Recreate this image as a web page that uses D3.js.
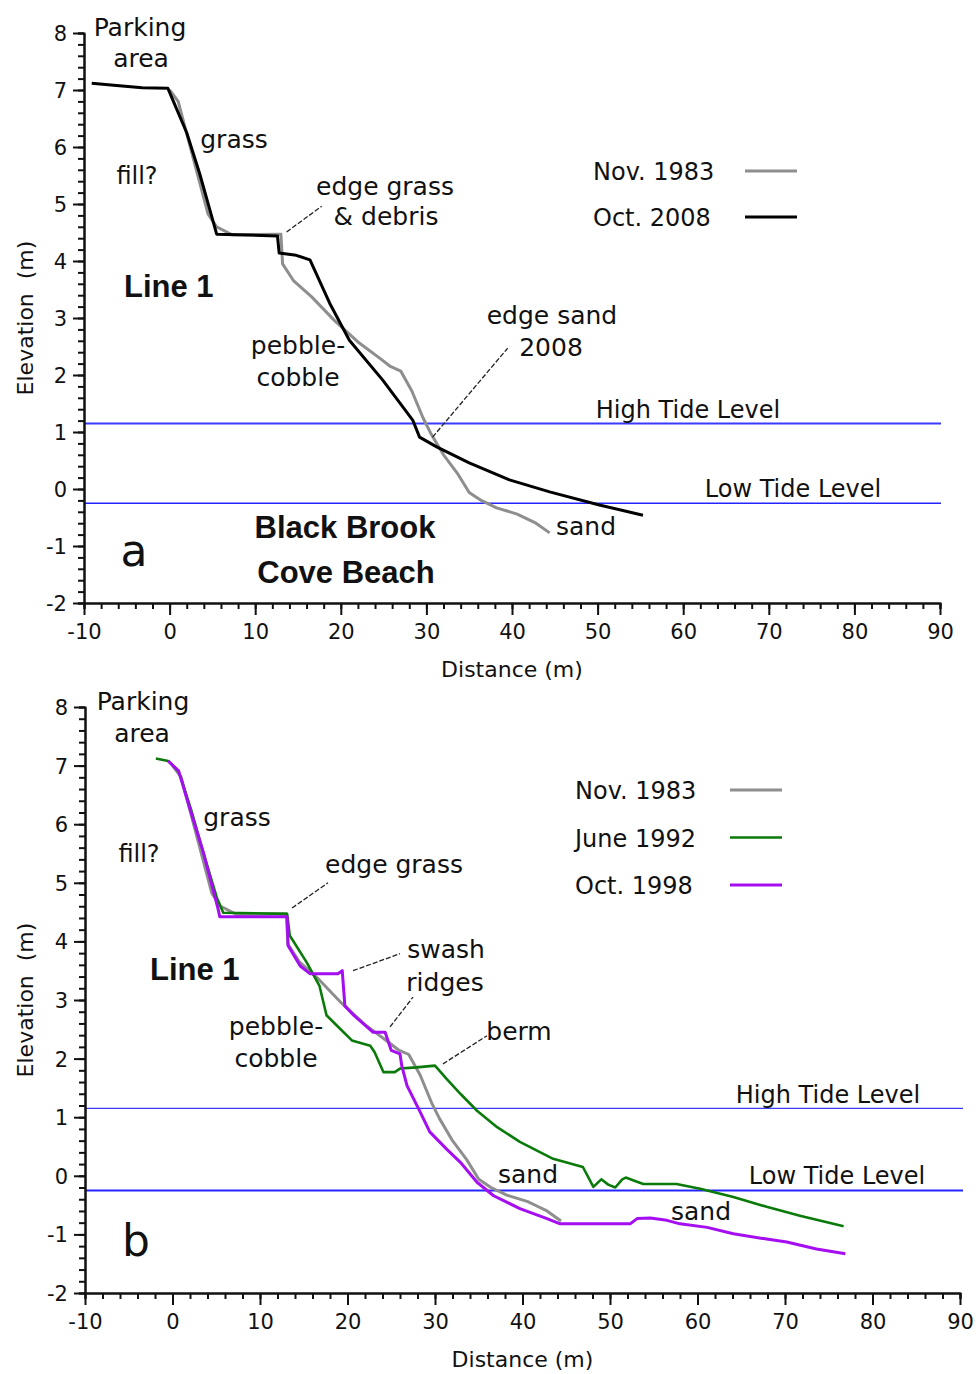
<!DOCTYPE html>
<html>
<head>
<meta charset="utf-8">
<script src="https://cdn.jsdelivr.net/npm/d3@7"></script>
<style>
  body { margin: 0; background: #fff; }
  text { font-family: "DejaVu Sans", sans-serif; fill: #111; }
  .bold { font-family: "Liberation Sans", Arial, sans-serif; font-weight: bold; }
</style>
</head>
<body>
<div id="chart"></div>
<script>
// axis ticks
var distMajor = [-10, 0, 10, 20, 30, 40, 50, 60, 70, 80, 90];
var elevMajor = [-2, -1, 0, 1, 2, 3, 4, 5, 6, 7, 8];

// tide levels (m)
var highTide = 1.15;
var lowTide = -0.25;

// profiles, [distance m, elevation m]
var nov1983 = [[0,7.0],[1.0,6.8],[4.5,4.82],[5.5,4.6],[7.3,4.46],[13.0,4.47],[13.2,3.95],[14.5,3.65],
  [16.6,3.37],[19.3,2.95],[22.0,2.58],[24.5,2.3],[25.8,2.15],[27.0,2.07],[28.3,1.72],[29.6,1.25],
  [30.5,0.98],[32.0,0.6],[33.6,0.28],[35.0,-0.06],[36.4,-0.2],[38.2,-0.33],[40.6,-0.44],[41.7,-0.52],
  [42.8,-0.6],[44.4,-0.77]];

var oct2008 = [[-9.1,7.12],[-6.2,7.08],[-3.2,7.04],[-0.2,7.03],[2.0,6.25],[3.5,5.54],[5.5,4.47],
  [12.6,4.44],[12.8,4.14],[14.8,4.1],[16.4,4.02],[18.7,3.26],[21.0,2.61],[24.9,1.91],[28.4,1.21],
  [29.2,0.91],[31.2,0.74],[35.0,0.46],[39.7,0.16],[44.4,-0.05],[50.2,-0.28],[55.3,-0.46]];

var june1992 = [[-1.9,7.12],[-0.5,7.08],[0.7,6.9],[2.1,6.26],[3.5,5.53],[5.1,4.73],[5.8,4.49],
  [13.1,4.47],[13.4,4.1],[15.3,3.65],[16.8,3.24],[17.6,2.74],[18.8,2.56],[20.5,2.31],[22.6,2.22],
  [23.1,2.11],[24.1,1.77],[25.4,1.77],[26.0,1.83],[27.9,1.85],[30.0,1.88],[31.3,1.66],[32.9,1.40],
  [34.8,1.11],[37.1,0.83],[39.7,0.58],[43.5,0.29],[46.9,0.15],[48.1,-0.19],[49.0,-0.06],[49.8,-0.15],
  [50.6,-0.2],[51.4,-0.06],[51.8,-0.03],[52.7,-0.08],[53.8,-0.14],[57.6,-0.14],[60.3,-0.22],
  [64.1,-0.36],[67.9,-0.53],[71.7,-0.68],[76.7,-0.86]];

var oct1998 = [[-0.5,7.08],[0.7,6.91],[2.0,6.26],[3.5,5.53],[5.2,4.56],[5.4,4.42],[13.1,4.42],
  [13.2,3.93],[14.6,3.58],[15.7,3.45],[18.9,3.45],[19.4,3.5],[19.7,2.9],[20.7,2.74],[22.9,2.45],
  [24.3,2.45],[25.0,2.14],[26.0,2.08],[26.2,1.88],[26.8,1.54],[28.3,1.09],[29.4,0.75],[31.3,0.46],
  [32.9,0.23],[34.8,-0.11],[36.7,-0.34],[39.7,-0.56],[42.8,-0.73],[44.3,-0.82],[48.9,-0.82],
  [52.3,-0.82],[53.1,-0.73],[54.6,-0.72],[56.5,-0.76],[58.0,-0.82],[61.1,-0.88],[64.1,-0.99],
  [67.9,-1.08],[70.2,-1.13],[73.6,-1.25],[76.9,-1.33]];

var seriesA = [
  {name: "Nov. 1983", data: nov1983, color: "#8e8e8e", w: 3},
  {name: "Oct. 2008", data: oct2008, color: "#000000", w: 3}
];
var seriesB = [
  {name: "Nov. 1983", data: nov1983, color: "#8e8e8e", w: 3},
  {name: "June 1992", data: june1992, color: "#0a7a0a", w: 2.6},
  {name: "Oct. 1998", data: oct1998, color: "#a50ef0", w: 3}
];

var width = 976, height = 1374;

var svg = d3.select("#chart").append("svg")
  .attr("width", width)
  .attr("height", height);

var plainNum = function(d) { return String(d); };  // keep ascii hyphen

function panel(opt) {
  var x = d3.scaleLinear().domain([-10, 90]).range([opt.x0, opt.x1]);
  var y = d3.scaleLinear().domain([-2, 8]).range([opt.y1, opt.y0]);
  var g = svg.append("g");

  // tide lines
  g.append("line")
    .attr("x1", x(-10)).attr("x2", opt.tideEnd)
    .attr("y1", y(highTide)).attr("y2", y(highTide))
    .attr("stroke", "#3a3aff").attr("stroke-width", opt.hw);
  g.append("line")
    .attr("x1", x(-10)).attr("x2", opt.tideEnd)
    .attr("y1", y(lowTide)).attr("y2", y(lowTide))
    .attr("stroke", "#2424ff").attr("stroke-width", opt.lw);

  // minor ticks
  var xMinor = d3.range(-10, 90.1, 2);
  var yMinor = d3.range(-2, 8.01, 0.2);
  g.append("g").attr("transform", "translate(0," + opt.y1 + ")")
    .call(d3.axisBottom(x).tickValues(xMinor).tickSize(6).tickFormat(""));
  g.append("g").attr("transform", "translate(" + opt.x0 + ",0)")
    .call(d3.axisLeft(y).tickValues(yMinor).tickSize(6).tickFormat(""));

  var xa = g.append("g").attr("transform", "translate(0," + opt.y1 + ")")
    .call(d3.axisBottom(x).tickValues(distMajor).tickFormat(plainNum)
      .tickSize(12).tickSizeOuter(0).tickPadding(9));
  var ya = g.append("g").attr("transform", "translate(" + opt.x0 + ",0)")
    .call(d3.axisLeft(y).tickValues(elevMajor).tickFormat(plainNum)
      .tickSize(11).tickSizeOuter(0).tickPadding(6));

  g.selectAll(".domain, .tick line").attr("stroke", "#111").attr("stroke-width", 2);
  g.selectAll(".tick text").style("font-family", "DejaVu Sans, sans-serif")
    .style("font-size", "21px").attr("fill", "#111");
  ya.selectAll(".tick text").attr("dy", "0.36em");

  // axis titles
  g.append("text").attr("x", (opt.x0 + opt.x1) / 2).attr("y", opt.y1 + 74)
    .attr("text-anchor", "middle").style("font-size", "22px").text("Distance (m)");
  g.append("text")
    .attr("transform", "translate(33," + ((opt.y0 + opt.y1) / 2) + ") rotate(-90)")
    .attr("text-anchor", "middle").style("font-size", "22px")
    .attr("xml:space", "preserve").text("Elevation  (m)");

  // profiles
  var line = d3.line().x(function(d) { return x(d[0]); }).y(function(d) { return y(d[1]); });
  opt.series.forEach(function(s) {
    g.append("path").datum(s.data)
      .attr("d", line)
      .attr("fill", "none")
      .attr("stroke", s.color)
      .attr("stroke-width", s.w)
      .attr("stroke-linejoin", "round");
  });

  // legend
  opt.series.forEach(function(s, i) {
    var ly = opt.legY + i * opt.legStep[i];
    g.append("text").attr("x", opt.legX).attr("y", ly)
      .style("font-size", "24px").text(s.name);
    g.append("line")
      .attr("x1", opt.legLine[0]).attr("x2", opt.legLine[1])
      .attr("y1", ly - 9).attr("y2", ly - 9)
      .attr("stroke", s.color).attr("stroke-width", s.w);
  });

  // leader lines
  opt.leaders.forEach(function(l) {
    g.append("line")
      .attr("x1", x(l[0])).attr("y1", y(l[1]))
      .attr("x2", x(l[2])).attr("y2", y(l[3]))
      .attr("stroke", "#222").attr("stroke-width", 1.3)
      .attr("stroke-dasharray", "5,2");
  });

  // labels
  opt.labels.forEach(function(l) {
    g.append("text").attr("x", l[1]).attr("y", l[2])
      .attr("text-anchor", l[4] || "middle")
      .attr("class", l[5] || null)
      .style("font-size", l[3] + "px")
      .text(l[0]);
  });
}

panel({
  x0: 84, x1: 940, y0: 33, y1: 603, tideEnd: 941, hw: 2, lw: 1.5,
  series: seriesA,
  legX: 593, legY: 180, legStep: [46, 46], legLine: [745, 797],
  leaders: [[13.67, 4.51, 17.76, 4.96], [30.72, 0.91, 39.49, 2.47]],
  labels: [
    ["Parking", 140, 36, 25], ["area", 141, 67, 25],
    ["grass", 234, 148, 25], ["fill?", 137, 184, 24],
    ["edge grass", 385, 195, 25], ["& debris", 386, 225, 25],
    ["Line 1", 124, 297, 31, "start", "bold"],
    ["pebble-", 298, 354, 25], ["cobble", 298, 386, 25],
    ["edge sand", 552, 324, 25], ["2008", 551, 356, 25],
    ["High Tide Level", 688, 418, 24], ["Low Tide Level", 793, 497, 24],
    ["sand", 586, 535, 25],
    ["Black Brook", 345, 538, 31, "middle", "bold"],
    ["Cove Beach", 346, 583, 31, "middle", "bold"],
    ["a", 134, 566, 44]
  ]
});

panel({
  x0: 85, x1: 960, y0: 707, y1: 1293, tideEnd: 963, hw: 1.3, lw: 2,
  series: seriesB,
  legX: 575, legY: 799, legStep: [46, 47.5, 47.5], legLine: [730, 782],
  leaders: [[13.66, 4.57, 17.77, 5.0], [20.63, 3.5, 26.0, 3.79], [24.86, 2.54, 27.49, 3.05],
            [30.91, 1.91, 35.94, 2.39]],
  labels: [
    ["Parking", 143, 710, 25], ["area", 142, 742, 25],
    ["grass", 237, 826, 25], ["fill?", 139, 862, 24],
    ["edge grass", 394, 873, 25],
    ["Line 1", 150, 980, 31, "start", "bold"],
    ["swash", 446, 958, 25], ["ridges", 445, 991, 25],
    ["pebble-", 276, 1035, 25], ["cobble", 276, 1067, 25],
    ["berm", 519, 1040, 25],
    ["High Tide Level", 828, 1103, 24], ["Low Tide Level", 837, 1184, 24],
    ["sand", 528, 1183, 25], ["sand", 701, 1220, 25],
    ["b", 136, 1256, 44]
  ]
});
</script>
</body>
</html>
